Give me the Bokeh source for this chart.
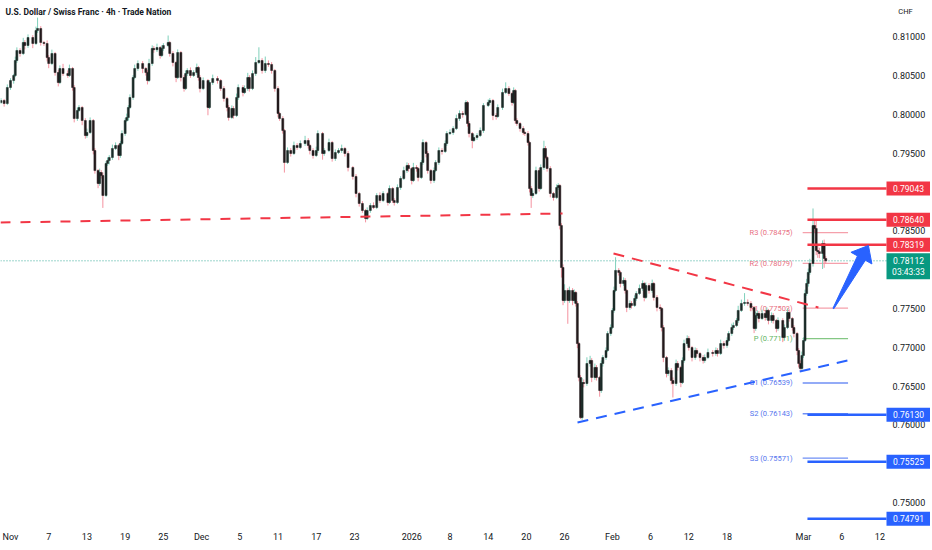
import math
from bokeh.plotting import figure
from bokeh.models import Range1d, FixedTicker, ColumnDataSource
from bokeh.embed import file_html
from bokeh.resources import INLINE
from bokeh.core.properties import value

TITLE = "U.S. Dollar / Swiss Franc · 4h · Trade Nation"
QUOTE_CCY = "CHF"

# ---- candles: 4h bar index (0 = first bar of 3 Nov), close, wick extensions (pips)
first_open = 0.80150
bars = [
    -6, -4, -2, 0, 2, 3, 4, 6, 8, 9, 11, 14, 16, 17, 19, 21, 23, 24, 26, 28,
    30, 31, 33, 36, 37, 39, 40, 42, 43, 45, 47, 48, 50, 52, 53, 55, 56, 57, 58, 60,
    61, 62, 64, 66, 68, 69, 70, 72, 73, 74, 75, 77, 78, 80, 83, 85, 86, 87, 89, 90,
    92, 94, 95,
    96, 99, 100, 102, 104, 105, 107, 109, 110, 111, 113, 115, 117, 118, 119, 121, 124, 125, 127, 130,
    132, 134, 136, 137, 139, 140, 142, 143, 146, 147, 149, 150, 152, 154, 156, 158, 160, 162, 164, 166,
    168, 169, 171, 172, 174, 176, 178, 180, 182, 185, 187, 188, 190, 192, 193, 196,
    197, 200, 202, 204, 206, 208, 210, 212, 215, 217, 219, 221, 223, 224, 226, 228, 230, 232, 234, 237,
    238, 240, 241, 243, 245, 247, 249, 250, 252, 253, 255, 256, 258, 259, 261, 262, 264, 266, 267, 269,
    271, 273, 274, 276, 278, 280, 282, 284, 286, 287, 288, 290, 291, 293,
    295, 297, 300, 301, 303, 305, 306, 309, 311, 313, 315, 316, 317, 318, 320, 322, 323, 325, 326, 327,
    328, 330, 332, 333, 335, 336, 337, 339, 341, 343, 344, 345, 346, 347, 348, 350, 351, 353, 354, 355,
    356, 357, 358, 359, 360, 362, 364, 365, 367, 368, 370, 371, 372, 374, 375, 377, 378, 379, 380, 382,
    383, 385, 386, 387, 389, 390, 392, 393, 395, 397, 398,
    399, 401, 403, 404, 406, 408, 409, 410, 412, 413, 415, 416, 418, 419, 421, 422, 423, 425, 426, 428,
    430, 431, 433, 435, 436, 438, 441, 443, 444, 446, 448, 450, 451, 453, 454, 456, 457, 459, 461, 463,
    465, 467, 468, 469, 470, 472, 474, 475, 476, 478, 479, 481, 482, 485, 486, 488, 489, 491, 492, 494,
    495, 496, 497, 498, 499, 500, 501, 502, 504, 505, 506, 507, 508, 510, 511, 512,
]
closes = [
    0.80176, 0.80137, 0.80343, 0.80433, 0.80498, 0.80691, 0.80820, 0.80781, 0.80923, 0.80884,
    0.80987, 0.80910, 0.81077, 0.81103, 0.80923, 0.80910, 0.80729, 0.80652, 0.80781, 0.80536,
    0.80407, 0.80588, 0.80523, 0.80498, 0.80588, 0.80343, 0.79944, 0.80047, 0.80086, 0.79918,
    0.79725, 0.79764, 0.79918, 0.79532, 0.79274, 0.79107, 0.79249, 0.79210, 0.78953, 0.79365,
    0.79403, 0.79442, 0.79558, 0.79597, 0.79468, 0.79622, 0.79751, 0.79918, 0.79957, 0.80086,
    0.80215, 0.80472, 0.80588, 0.80652, 0.80588, 0.80536, 0.80433, 0.80652, 0.80846, 0.80830,
    0.80858, 0.80755, 0.80846,
    0.80884, 0.80923, 0.80781, 0.80665, 0.80472, 0.80794, 0.80472, 0.80330, 0.80523, 0.80562,
    0.80498, 0.80536, 0.80601, 0.80472, 0.80330, 0.80433, 0.80086, 0.80407, 0.80459, 0.80433,
    0.80330, 0.80202, 0.80086, 0.79957, 0.80073, 0.79983, 0.80215, 0.80343, 0.80279, 0.80330,
    0.80472, 0.80330, 0.80523, 0.80665, 0.80691, 0.80562, 0.80652, 0.80640, 0.80562, 0.80330,
    0.80009, 0.79944, 0.79789, 0.79378, 0.79532, 0.79494, 0.79597, 0.79571, 0.79622, 0.79661,
    0.79597, 0.79532, 0.79468, 0.79532, 0.79751, 0.79494,
    0.79532, 0.79635, 0.79429, 0.79506, 0.79532, 0.79558, 0.79494, 0.79313, 0.79198, 0.78979,
    0.78850, 0.78760, 0.78657, 0.78760, 0.78824, 0.78798, 0.78953, 0.78888, 0.78979, 0.78863,
    0.79043, 0.78888, 0.78863, 0.79056, 0.79172, 0.79274, 0.79339, 0.79300, 0.79146, 0.79313,
    0.79300, 0.79185, 0.79378, 0.79635, 0.79494, 0.79274, 0.79146, 0.79274, 0.79378, 0.79532,
    0.79520, 0.79622, 0.79751, 0.79764, 0.79815, 0.79944, 0.80009, 0.79995, 0.80150, 0.79880,
    0.79751, 0.79661, 0.79699, 0.79725,
    0.79789, 0.80112, 0.80150, 0.80176, 0.79983, 0.79970, 0.80086, 0.80279, 0.80330, 0.80266,
    0.80150, 0.80305, 0.79918, 0.79880, 0.79815, 0.79764, 0.79751, 0.79635, 0.79043, 0.78953,
    0.78979, 0.79274, 0.79043, 0.79313, 0.79558, 0.79442, 0.79300, 0.78979, 0.78927, 0.79056,
    0.79081, 0.78566, 0.78026, 0.77601, 0.77730, 0.77601, 0.77730, 0.77601, 0.77704, 0.77563,
    0.77047, 0.76610, 0.76094, 0.76545, 0.76532, 0.76790, 0.76829, 0.76610, 0.76739, 0.76610,
    0.76442, 0.76790, 0.76867, 0.76957, 0.77176, 0.77253, 0.77473, 0.77730, 0.77988, 0.77962,
    0.77820, 0.77859, 0.77730, 0.77511, 0.77563, 0.77537, 0.77627, 0.77691, 0.77756, 0.77820,
    0.77640,
    0.77794, 0.77730, 0.77820, 0.77640, 0.77511, 0.77498, 0.77253, 0.76867, 0.76661, 0.76700,
    0.76571, 0.76532, 0.76790, 0.76739, 0.76545, 0.76829, 0.77047, 0.77112, 0.76996, 0.76867,
    0.76957, 0.76919, 0.76867, 0.76829, 0.76867, 0.76932, 0.76919, 0.76957, 0.76919, 0.77047,
    0.77022, 0.77086, 0.77176, 0.77253, 0.77279, 0.77344, 0.77473, 0.77563, 0.77576, 0.77563,
    0.77511, 0.77241, 0.77408, 0.77434, 0.77369, 0.77434, 0.77382, 0.77473, 0.77344, 0.77408,
    0.77344, 0.77241, 0.77344, 0.77125, 0.77253, 0.77447, 0.77369, 0.77253, 0.77176, 0.76957,
    0.76790, 0.76726, 0.76893, 0.77086, 0.77691, 0.77820, 0.77962, 0.78078, 0.78566, 0.78528,
    0.78245, 0.78230, 0.78206, 0.78335, 0.78142, 0.78112,
]
wick_up_pips = [
    3, 2, 4, 3, 2, 5, 4, 3, 6, 3, 4, 3, 5, 14, 3, 2, 4, 3, 5, 2,
    3, 4, 6, 4, 5, 2, 3, 4, 3, 2, 3, 5, 4, 2, 3, 2, 5, 3, 4, 3,
    4, 3, 5, 4, 2, 3, 4, 3, 5, 3, 4, 3, 5, 4, 3, 2, 3, 6, 4, 3,
    5, 2, 4,
    3, 9, 2, 3, 2, 4, 2, 3, 4, 3, 4, 3, 5, 2, 3, 4, 2, 3, 5, 3,
    2, 3, 2, 3, 4, 3, 5, 4, 3, 4, 6, 3, 4, 7, 17, 3, 9, 4, 3, 2,
    3, 2, 3, 2, 4, 3, 5, 3, 4, 6, 3, 2, 3, 5, 4, 2,
    3, 5, 2, 4, 3, 5, 2, 3, 2, 3, 2, 3, 2, 4, 3, 4, 3, 4, 3, 2,
    4, 2, 3, 4, 3, 5, 4, 3, 2, 6, 3, 2, 3, 4, 2, 3, 2, 4, 3, 4,
    3, 4, 3, 4, 3, 5, 4, 3, 3, 2, 3, 2, 4, 3,
    4, 3, 4, 3, 2, 3, 4, 5, 8, 3, 2, 4, 2, 3, 2, 3, 2, 3, 2, 3,
    4, 5, 3, 4, 10, 3, 2, 3, 2, 4, 3, 2, 3, 4, 8, 3, 5, 3, 4, 2,
    3, 2, 3, 6, 4, 8, 6, 3, 5, 3, 2, 4, 3, 4, 3, 4, 3, 5, 17, 3,
    2, 4, 3, 2, 4, 3, 4, 3, 5, 4, 2,
    4, 3, 5, 2, 3, 4, 2, 3, 2, 4, 3, 4, 5, 3, 2, 4, 5, 4, 3, 2,
    4, 3, 2, 3, 4, 5, 3, 4, 3, 5, 3, 4, 3, 5, 4, 3, 6, 5, 12, 4,
    3, 2, 5, 4, 3, 5, 3, 4, 2, 4, 3, 2, 4, 3, 4, 5, 3, 2, 3, 2,
    3, 4, 5, 4, 5, 6, 5, 6, 22, 8, 12, 6, 5, 4, 5, 3,
]
wick_dn_pips = [
    2, 4, 2, 3, 4, 2, 3, 4, 2, 5, 3, 6, 2, 3, 4, 3, 5, 6, 2, 4,
    5, 2, 3, 3, 2, 4, 5, 3, 2, 6, 4, 3, 2, 5, 4, 6, 3, 4, 16, 2,
    3, 5, 3, 2, 6, 3, 2, 3, 2, 4, 2, 3, 2, 3, 6, 4, 5, 2, 3, 4,
    3, 4, 2,
    3, 2, 4, 5, 6, 2, 5, 4, 2, 3, 3, 2, 3, 4, 5, 2, 10, 2, 3, 4,
    3, 4, 5, 4, 2, 4, 2, 3, 5, 2, 3, 4, 2, 3, 2, 4, 3, 3, 4, 4,
    5, 3, 4, 13, 2, 4, 2, 3, 2, 3, 4, 5, 4, 2, 3, 8,
    3, 2, 4, 3, 2, 3, 4, 5, 4, 5, 4, 3, 5, 2, 3, 2, 2, 3, 2, 4,
    2, 3, 4, 2, 3, 2, 3, 4, 5, 2, 4, 5, 2, 3, 5, 4, 4, 3, 2, 3,
    4, 2, 3, 2, 3, 2, 3, 4, 2, 4, 5, 10, 2, 3,
    2, 3, 2, 3, 6, 4, 2, 3, 2, 3, 4, 2, 4, 3, 4, 3, 3, 4, 5, 16,
    3, 2, 4, 2, 3, 2, 4, 5, 4, 2, 3, 5, 13, 6, 3, 30, 3, 6, 3, 4,
    6, 5, 2, 3, 5, 3, 4, 6, 3, 4, 8, 3, 4, 3, 2, 3, 2, 3, 2, 4,
    5, 3, 4, 6, 3, 4, 2, 3, 2, 3, 5,
    2, 4, 3, 4, 5, 3, 5, 6, 5, 3, 5, 18, 3, 4, 6, 2, 3, 3, 4, 5,
    3, 4, 5, 4, 3, 2, 4, 3, 4, 2, 4, 3, 2, 3, 3, 2, 3, 2, 3, 3,
    5, 6, 3, 3, 5, 2, 4, 3, 5, 3, 4, 5, 3, 6, 3, 2, 4, 4, 5, 6,
    5, 3, 2, 3, 2, 3, 4, 3, 4, 5, 6, 8, 6, 20, 12, 4,
]

# ---- axes
date_tick_bars = [0, 24, 48, 72, 96, 120, 144, 168, 192, 216, 252,
                  276, 300, 324, 348, 378, 402, 426, 450, 498, 522, 546]
date_tick_labels = ["Nov", "7", "13", "19", "25", "Dec", "5", "11", "17", "23", "2026",
                    "8", "14", "20", "26", "Feb", "6", "12", "18", "Mar", "6", "12"]
price_ticks = [0.750, 0.755, 0.760, 0.765, 0.770, 0.775, 0.780, 0.785,
               0.790, 0.795, 0.800, 0.805, 0.810]

# ---- pivots and levels
pivot_names = ["R3", "R2", "R1", "P", "S1", "S2", "S3"]
pivot_values = [0.78475, 0.78079, 0.77503, 0.77111, 0.76539, 0.76143, 0.75571]
pivot_bars = [497.5, 526.0]
resistance_levels = [0.79043, 0.78640, 0.78319]
support_levels = [0.76130, 0.75525, 0.74791]
level_start_bar = 500.5
current_price = 0.78112
bar_countdown = "03:43:33"

# ---- drawings (anchor points: bar index, price)
old_support_bars = [-6.3, 346.7]
old_support_prices = [0.78605, 0.78721]
wedge_top_bars = [378.7, 507.4]
wedge_top_prices = [0.78206, 0.77511]
wedge_bottom_bars = [356.1, 525.6]
wedge_bottom_prices = [0.76030, 0.76829]
arrow_bars = [516.8, 538.8]
arrow_prices = [0.77498, 0.78309]

# ---- layout / scales (frame spans the whole width; price scale drawn inside)
FRAME_W, FRAME_H = 930, 526
PX_PER_BAR = 1.5923
PX_PER_PRICE = 7767.0
X_START = -10 / PX_PER_BAR
X_END = X_START + FRAME_W / PX_PER_BAR
Y_END = 0.81 + 36 / PX_PER_PRICE
Y_START = Y_END - FRAME_H / PX_PER_PRICE

def bar_at(px):          # bar coordinate of a frame pixel column
    return X_START + px / PX_PER_BAR

def price_at(py):        # price coordinate of a frame pixel row (from top)
    return Y_END - py / PX_PER_PRICE

RED, GREEN, BLUE = "#f23645", "#089981", "#2962ff"
TXT = "#131722"
FONT = "Roboto"

p = figure(frame_width=FRAME_W, frame_height=FRAME_H, x_range=Range1d(X_START, X_END),
           y_range=Range1d(Y_START, Y_END), y_axis_location=None,
           toolbar_location=None, output_backend="svg", min_border=0)
p.min_border_left = 0
p.min_border_top = 0
p.min_border_right = 0
p.min_border_bottom = 0
p.background_fill_color = "white"
p.border_fill_color = "white"
p.outline_line_color = None
p.xgrid.grid_line_color = None
p.ygrid.grid_line_color = None

xa = p.xaxis[0]
xa.ticker = FixedTicker(ticks=date_tick_bars)
xa.major_label_overrides = {b: lab for b, lab in zip(date_tick_bars, date_tick_labels)}
xa.axis_line_color = None
xa.major_tick_line_color = None
xa.minor_tick_line_color = None
xa.major_tick_out = 0
xa.major_tick_in = 0
xa.minor_tick_out = 0
xa.major_label_standoff = 5
xa.major_label_text_font = FONT
xa.major_label_text_font_size = "9px"
xa.major_label_text_color = TXT

LINE_END = bar_at(886)

# current price dotted line
p.line([X_START, LINE_END], [current_price, current_price], line_color=GREEN,
       line_width=1, line_dash="1 2", line_alpha=0.8)

# price scale labels
p.text(x=[bar_at(892)] * len(price_ticks), y=price_ticks,
       text=[f"{v:.5f}" for v in price_ticks], text_align="left", text_baseline="middle",
       text_font=value(FONT), text_font_size="9px", text_color=TXT)

# pivot lines + labels (under candles)
piv_colors_line, piv_colors_text = [], []
for n in pivot_names:
    if n.startswith("R"):
        piv_colors_line.append("#f5a0ab"); piv_colors_text.append("#e8707f")
    elif n.startswith("S"):
        piv_colors_line.append("#6f8ff5"); piv_colors_text.append("#5575ee")
    else:
        piv_colors_line.append("#84c784"); piv_colors_text.append("#5fb35f")
piv_src = ColumnDataSource(dict(
    x0=[pivot_bars[0]] * len(pivot_values), x1=[pivot_bars[1]] * len(pivot_values),
    y=pivot_values, lc=piv_colors_line, tc=piv_colors_text,
    txt=[f"{n} ({v:.5f})" for n, v in zip(pivot_names, pivot_values)]))
p.segment(x0="x0", y0="y", x1="x1", y1="y", source=piv_src, line_color="lc", line_width=1.3)
p.text(x="x0", y="y", text="txt", source=piv_src, text_color="tc", text_align="right",
       text_baseline="middle", x_offset=-10, text_font=value(FONT), text_font_size="7.5px")

# candles
opens = [first_open] + closes[:-1]
tops, bottoms, highs, lows, wcol, bcol = [], [], [], [], [], []
for o, c, u, d in zip(opens, closes, wick_up_pips, wick_dn_pips):
    tops.append(max(o, c)); bottoms.append(min(o, c))
    highs.append(max(o, c) + u * 0.0001); lows.append(min(o, c) - d * 0.0001)
    up = c >= o
    wcol.append("#7fd0bb" if up else "#f4929f")
    bcol.append("#1b2a27" if up else "#221a1c")
csrc = ColumnDataSource(dict(x=bars, top=tops, bottom=bottoms, high=highs, low=lows,
                             wc=wcol, bc=bcol))
p.segment(x0="x", y0="low", x1="x", y1="high", source=csrc, line_color="wc", line_width=1)
p.vbar(x="x", width=1.25, top="top", bottom="bottom", source=csrc,
       fill_color="bc", line_color="bc", line_width=0.5)

# trend lines
p.line(old_support_bars, old_support_prices, line_color=RED, line_width=2, line_dash="10 10")
p.line(wedge_top_bars, wedge_top_prices, line_color=RED, line_width=2, line_dash="11 8")
p.line(wedge_bottom_bars, wedge_bottom_prices, line_color=BLUE, line_width=2, line_dash="11 8")

# key levels
for lv in resistance_levels:
    p.line([level_start_bar, LINE_END], [lv, lv], line_color=RED, line_width=2.5)
for lv in support_levels:
    p.line([level_start_bar, LINE_END], [lv, lv], line_color=BLUE, line_width=2.5)

# arrow (tapered, built in screen-proportional space)
tx, ty = arrow_bars[0] * PX_PER_BAR, arrow_prices[0] * PX_PER_PRICE
hx, hy = arrow_bars[1] * PX_PER_BAR, arrow_prices[1] * PX_PER_PRICE
L = math.hypot(hx - tx, hy - ty)
ux, uy = (hx - tx) / L, (hy - ty) / L
nx, ny = -uy, ux
mx, my = tx + ux * 0.80 * L, ty + uy * 0.80 * L
pts = [(tx - nx * 0.5, ty - ny * 0.5), (tx + nx * 0.5, ty + ny * 0.5),
       (mx + nx * 4.5, my + ny * 4.5), (mx + nx * 12, my + ny * 12), (hx, hy),
       (mx - nx * 12, my - ny * 12), (mx - nx * 4.5, my - ny * 4.5)]
p.patch([q[0] / PX_PER_BAR for q in pts], [q[1] / PX_PER_PRICE for q in pts],
        fill_color=BLUE, line_color=BLUE, line_width=1)

# title, currency
p.text(x=[bar_at(5)], y=[price_at(11)], text=[TITLE], text_align="left",
       text_baseline="middle", text_font=value(FONT), text_font_size="8.5px",
       text_font_style="bold", text_color=TXT)
p.text(x=[bar_at(905)], y=[price_at(11)], text=[QUOTE_CCY], text_align="center",
       text_baseline="middle", text_font=value(FONT), text_font_size="7.5px", text_color=TXT)

# price tags
TAG_X = bar_at(908)
tag_y, tag_h, tag_col, txt_y, txt = [], [], [], [], []
for lv in resistance_levels:
    tag_y.append(lv); tag_h.append(14); tag_col.append(RED)
    txt_y.append(lv); txt.append(f"{lv:.5f}")
for lv in support_levels:
    tag_y.append(lv); tag_h.append(14); tag_col.append(BLUE)
    txt_y.append(lv); txt.append(f"{lv:.5f}")
tag_y.append(current_price - 5.5 / PX_PER_PRICE); tag_h.append(26); tag_col.append(GREEN)
txt_y.append(current_price); txt.append(f"{current_price:.5f}")
txt_y.append(current_price - 11 / PX_PER_PRICE); txt.append(bar_countdown)
p.rect(x=[TAG_X] * len(tag_y), y=tag_y, width=44, height=tag_h, width_units="screen",
       height_units="screen", fill_color=tag_col, line_color=None)
p.text(x=[TAG_X] * len(txt), y=txt_y, text=txt, text_align="center", text_baseline="middle",
       text_font=value(FONT), text_font_size="8.5px", text_color="white")

open("out.html", "w").write(file_html(p, INLINE))
